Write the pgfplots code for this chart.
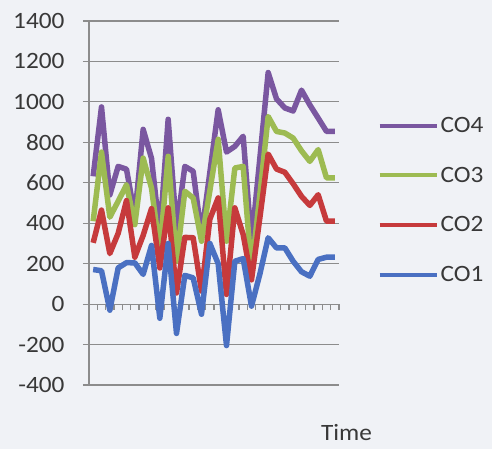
\documentclass[border=0pt]{standalone}
\usepackage{pgfplots}
\usepackage{pgfplotstable}
\pgfplotsset{compat=1.18}
\usepackage{fontspec}
\setmainfont{Carlito}[FakeStretch=1.08]

\definecolor{bgcol}{HTML}{F0F2F6}
\definecolor{gridcol}{HTML}{8C8C8C}
\definecolor{txtcol}{HTML}{383838}
\definecolor{cA}{HTML}{4A70C2}
\definecolor{cB}{HTML}{C63A3C}
\definecolor{cC}{HTML}{9DBB52}
\definecolor{cD}{HTML}{7A57A0}

% one row per time step, values of each component (stacked in the chart)
\pgfplotstableread{
t  co1  co2  co3  co4
0  171  132  107  222
1  165  300  287  223
2  -30  280  180  110
3  179  171  159  172
4  205  307   78   77
5  204   28  161   42
6  147  193  382  142
7  290  182  102  147
8  -70  249   83   84
9  300  176  255  183
10 -145 200  157  158
11 142  188  228  123
12 130  198  197  132
13 -50  114  247   29
14 300  120  140   90
15 200  325  290  146
16 -205 253  263  441
17 212  264  197  107
18 225  119  337  149
19 -10  130   45  138
20 148  278  114  180
21 328  414  186  217
22 278  390  186  161
23 278  374  194  124
24 212  383  226  134
25 160  373  225  300
26 138  350  218  279
27 221  320  223  156
28 232  178  214  230
29 232  178  214  230
}\cotable

\begin{document}
\begin{tikzpicture}
\useasboundingbox[fill=bgcol] (0,0) rectangle (492bp,449bp);
\begin{axis}[
  at={(89bp,64bp)}, anchor=south west,
  scale only axis, width=250bp, height=364bp,
  font=\fontsize{23.5}{26}\selectfont\color{txtcol},
  xmin=-0.5, xmax=29.5,
  ymin=-400, ymax=1400,
  axis x line=middle, axis y line=left,
  axis line style={gridcol, line width=1.2bp, -},
  hide obscured x ticks=false, hide obscured y ticks=false,
  xtick={-0.5,0.5,...,29.5}, xticklabels={},
  ytick={-400,-200,...,1400},
  tick align=outside,
  major tick length=6bp,
  tick style={gridcol, line width=1.2bp},
  ymajorgrids, grid style={gridcol, line width=1.2bp},
  /pgf/number format/assume math mode=true,
  /pgf/number format/1000 sep={},
  yticklabel style={xshift=-15bp},
  xlabel={Time},
  xlabel style={at={(axis description cs:1.03,-0.13)}, anchor=center},
  stack plots=y,
  every axis plot/.append style={line width=5.5bp, line join=round, no markers},
  reverse legend,
  legend style={draw=none, fill=none, at={(axis description cs:1.37,0.508)},
    anchor=center, row sep=29bp, inner sep=0pt},
  legend cell align=left,
  legend image code/.code={\draw[#1, line width=4bp] (0bp,0bp) -- (57bp,0bp);},
]
\addplot[cA] table[x=t, y=co1] {\cotable};
\addlegendentry{CO1}
\addplot[cB] table[x=t, y=co2] {\cotable};
\addlegendentry{CO2}
\addplot[cC] table[x=t, y=co3] {\cotable};
\addlegendentry{CO3}
\addplot[cD] table[x=t, y=co4] {\cotable};
\addlegendentry{CO4}
\end{axis}
\end{tikzpicture}
\end{document}
